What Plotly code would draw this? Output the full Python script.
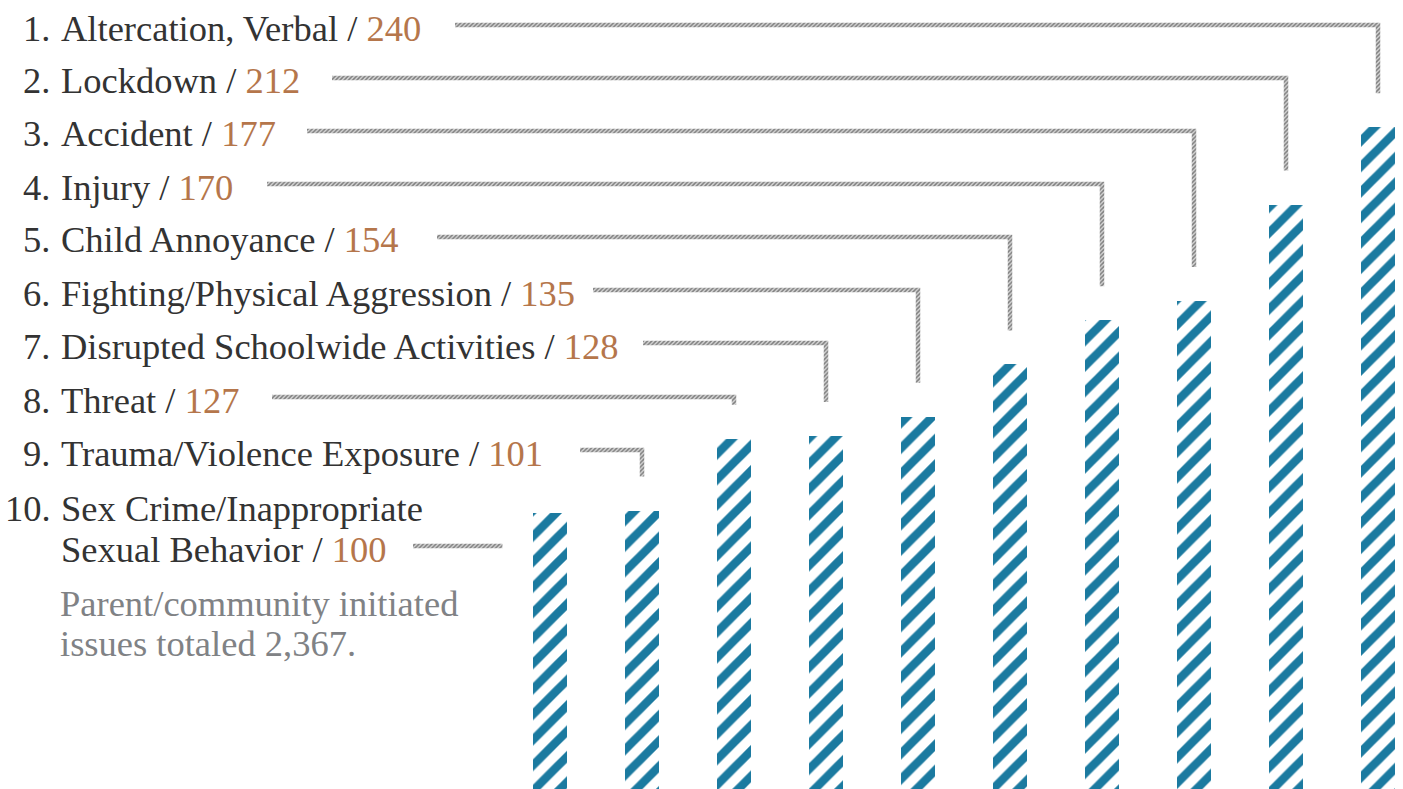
import plotly.graph_objects as go

# ---- data ----
categories = [
    "Altercation, Verbal",
    "Lockdown",
    "Accident",
    "Injury",
    "Child Annoyance",
    "Fighting/Physical Aggression",
    "Disrupted Schoolwide Activities",
    "Threat",
    "Trauma/Violence Exposure",
    "Sex Crime/Inappropriate Sexual Behavior",
]
values = [240, 212, 177, 170, 154, 135, 128, 127, 101, 100]
ranks = ["1.", "2.", "3.", "4.", "5.", "6.", "7.", "8.", "9.", "10."]
note_lines = ["Parent/community initiated", "issues totaled 2,367."]

# ---- layout constants (pixels) ----
W, H = 1403, 789
BAR0_PX = 550.0      # centre of the smallest bar
BAR_STEP = 92.0      # pixels between bar centres
PX_PER_UNIT = 2.757  # vertical pixels per count
BAR_W = 0.36         # bar width in category units
BLUE = "#1b7aa0"
DARK = "#333333"
BROWN = "#b5764b"
GREY = "#808285"
LEADER_FG = "#7e7e7e"
LEADER_BG = "#d6d6d6"
FONT = "Liberation Serif"
FS = 36.5

bar_vals = values[::-1]
bar_cats = categories[::-1]
xs = list(range(len(bar_vals)))

x_range = [-BAR0_PX / BAR_STEP, (W - BAR0_PX) / BAR_STEP]
y_range = [0, H / PX_PER_UNIT]


def px_to_x(px):
    return (px - BAR0_PX) / BAR_STEP


def py_to_y(py):
    return (H - py) / PX_PER_UNIT


fig = go.Figure()

fig.add_trace(go.Bar(
    x=xs, y=bar_vals, width=BAR_W,
    marker=dict(
        color="white",
        line=dict(width=0),
        pattern=dict(shape="/", fgcolor=BLUE, bgcolor="white",
                     size=18, solidity=0.47, fillmode="replace"),
    ),
    hovertext=bar_cats, hoverinfo="text+y",
    showlegend=False,
))

row_base = [40, 93, 146, 199, 252, 305, 358, 412, 465, 561]
lead_start = [455, 332, 307, 267, 437, 593, 643, 272, 580, 413]
LEAD_T = 4.5
GAP_PX = 34.0

for i, v in enumerate(values):
    bi = len(values) - 1 - i
    ly = row_base[i] - 15
    ht = LEAD_T / 2 / PX_PER_UNIT
    wt = LEAD_T / 2 / BAR_STEP
    y0 = py_to_y(ly)
    x0 = px_to_x(lead_start[i])
    if bi == 0:
        x1 = bi - BAR_W / 2 - 31 / BAR_STEP
        px = [x0, x1, x1, x0, x0]
        py = [y0 + ht, y0 + ht, y0 - ht, y0 - ht, y0 + ht]
    else:
        xb = bi
        yend = v + GAP_PX / PX_PER_UNIT
        px = [x0, xb + wt, xb + wt, xb - wt, xb - wt, x0, x0]
        py = [y0 + ht, y0 + ht, yend, yend, y0 - ht, y0 - ht, y0 + ht]
    fig.add_trace(go.Scatter(
        x=px, y=py, mode="lines", fill="toself",
        line=dict(width=0, color="rgba(0,0,0,0)"),
        fillcolor=LEADER_BG,
        fillpattern=dict(shape="/", fgcolor=LEADER_FG, bgcolor=LEADER_BG,
                         size=3, solidity=0.5, fillmode="replace"),
        hoverinfo="skip", showlegend=False,
    ))

annotations = []


def add_text(text, px, base, anchor, color=DARK):
    annotations.append(dict(
        text=text, xref="paper", yref="paper",
        x=px / W, y=1 - (base - 12) / H,
        xanchor=anchor, yanchor="middle", showarrow=False,
        font=dict(family=FONT, size=FS, color=color),
    ))


for i, (cat, v) in enumerate(zip(categories, values)):
    num = f"<span style='color:{BROWN}'>{v}</span>"
    if i < 9:
        add_text(ranks[i], 52, row_base[i], "right")
        add_text(f"{cat} / {num}", 59, row_base[i], "left")
    else:
        first, second = "Sex Crime/Inappropriate", "Sexual Behavior"
        add_text(ranks[i], 53, 520, "right")
        add_text(first, 59, 520, "left")
        add_text(f"{second} / {num}", 59, row_base[i], "left")

add_text(note_lines[0], 58, 615, "left", GREY)
add_text(note_lines[1], 58, 655, "left", GREY)

fig.update_layout(
    width=W, height=H,
    margin=dict(l=0, r=0, t=0, b=0),
    paper_bgcolor="white", plot_bgcolor="white",
    xaxis=dict(range=x_range, visible=False, fixedrange=True),
    yaxis=dict(range=y_range, visible=False, fixedrange=True),
    bargap=0,
    annotations=annotations,
    font=dict(family=FONT),
)

fig.write_html(
    "out.html",
    config={"displayModeBar": False},
    post_script="document.body.style.margin='0px';document.body.style.overflow='hidden';",
)
